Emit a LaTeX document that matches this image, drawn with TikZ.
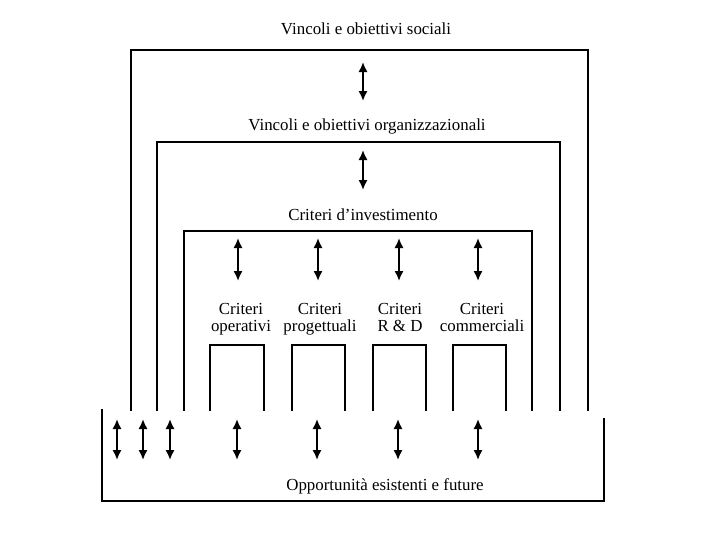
\documentclass[tikz,border=0pt]{standalone}
\usepackage{fontspec}
\setmainfont{Liberation Serif}
\usetikzlibrary{arrows.meta,positioning}

\begin{document}
\begin{tikzpicture}[
  x=0.025cm, y=-0.025cm,
  lbl/.style={font=\fontsize{12}{14}\selectfont, align=center, inner sep=1pt},
  crit/.style={font=\fontsize{12}{11.5}\selectfont, align=center, inner sep=1pt,
               anchor=north},
  frame/.style={draw=black, line width=1pt},
  dbl/.style={{Latex[length=2.5mm,width=2.3mm]}-{Latex[length=2.5mm,width=2.3mm]},
              line width=1.3pt}
]
\useasboundingbox (0,0) rectangle (720,540);
%% ── Level labels ────────────────────────────────────────────────────────
\node[lbl] (soc) at (366,29)  {Vincoli e obiettivi sociali};
\node[lbl] (org) at (367,126) {Vincoli e obiettivi organizzazionali};
\node[lbl] (inv) at (363,215) {Criteri d'investimento};
\node[lbl] (opp) at (385,486) {Opportunità esistenti e future};
%% ── Criteria labels ─────────────────────────────────────────────────────
\node[crit] (ope) at (241,302) {Criteri\\operativi};
\node[crit] (pro) at (320,302) {Criteri\\progettuali};
\node[crit] (rd)  at (400,302) {Criteri\\R \& D};
\node[crit] (com) at (482,302) {Criteri\\commerciali};
%% ── Nested frames (open at the bottom) ──────────────────────────────────
\draw[frame] (131,411) |- (588,50)  -- (588,411);
\draw[frame] (157,411) |- (560,142) -- (560,411);
\draw[frame] (184,411) |- (532,231) -- (532,411);
\foreach \l/\r in {210/264, 292/345, 373/426, 453/506}
  \draw[frame] (\l,411) |- (\r,345) -- (\r,411);
%% ── Base box (open at the top) ──────────────────────────────────────────
\draw[frame] (102,409) |- (604,501) -- (604,418);
%% ── Arrows: between levels ──────────────────────────────────────────────
\coordinate (a1) at (363,62);  \coordinate (b1) at (363,101);
\coordinate (a2) at (363,150); \coordinate (b2) at (363,190);
\draw[dbl] (a1) -- (b1);
\draw[dbl] (a2) -- (b2);
\foreach \x [count=\i] in {238,318,399,478} {
  \coordinate (ci\i) at (\x,238);
  \coordinate (cb\i) at (\x,281);
  \draw[dbl] (ci\i) -- (cb\i);
}
%% ── Arrows: towards the opportunities ───────────────────────────────────
\foreach \x [count=\i] in {117,143,170,237,317,398,478} {
  \coordinate (ot\i) at (\x,419);
  \coordinate (ob\i) at (\x,460);
  \draw[dbl] (ot\i) -- (ob\i);
}
\end{tikzpicture}
\end{document}
